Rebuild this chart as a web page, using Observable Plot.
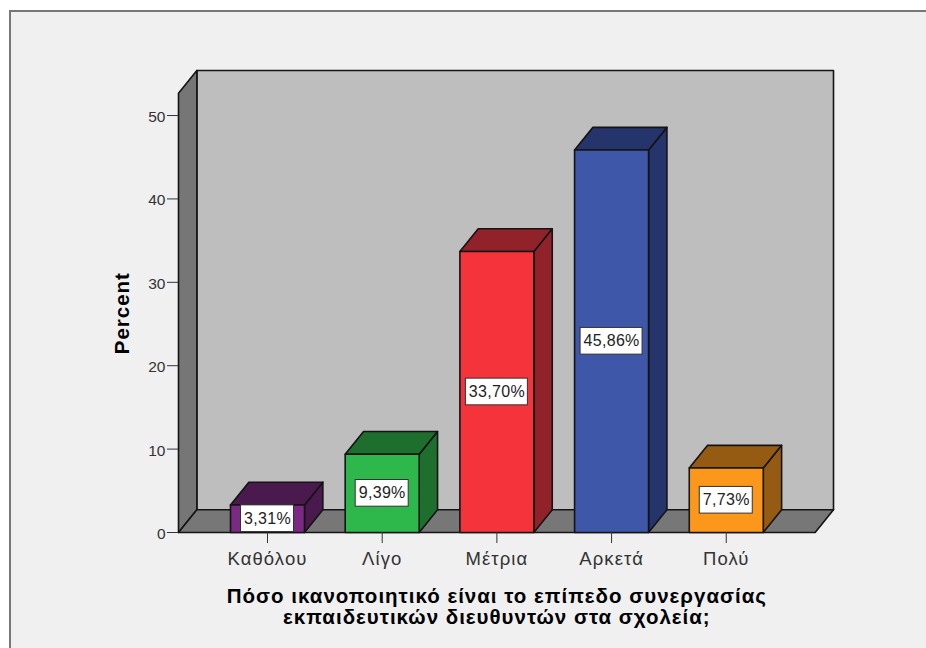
<!DOCTYPE html>
<html lang="el">
<head>
<meta charset="utf-8">
<script src="https://cdn.jsdelivr.net/npm/d3@7"></script>
<script src="https://cdn.jsdelivr.net/npm/@observablehq/plot@0.6"></script>
<style>
  html, body { margin: 0; padding: 0; background: #fff; overflow: hidden; }
  #panel { position: absolute; left: 9px; top: 10px; width: 940px; height: 660px;
           background: #f0f0f0; border: 2px solid #777; box-sizing: border-box; }
  #chart { position: absolute; left: 0; top: 0; }
  #chart svg { display: block; }
  g[aria-label="x-axis tick label"] { letter-spacing: 1.1px; }
</style>
</head>
<body>
<div id="panel"></div>
<div id="chart"></div>
<script>
// Satisfaction with teacher/principal cooperation, percent of respondents
const categories = ["Καθόλου", "Λίγο", "Μέτρια", "Αρκετά", "Πολύ"];
const percents = [3.31, 9.39, 33.70, 45.86, 7.73];
const percentLabels = ["3,31%", "9,39%", "33,70%", "45,86%", "7,73%"];
const frontColors = ["#7b2a84", "#2eb84b", "#f4333a", "#3f57a8", "#fb981c"];
const shadeColors = ["#4a1a4e", "#1e6e2d", "#92222a", "#25356c", "#965b12"];
const yTicks = [0, 10, 20, 30, 40, 50];
const xTitle = "Πόσο ικανοποιητικό είναι το επίπεδο συνεργασίας\nεκπαιδευτικών διευθυντών στα σχολεία;";

// Extents of the drawing box, in scale units (bar index and percent)
const xMin = -0.776, xMax = 4.935, yMax = 55.4;
// Oblique offset that gives the box and bars their depth
const depthX = 0.16, depthY = 2.72;
const barHalf = 0.3226;
// White value tags: half-width grows with the label length, in scale units
const tagHalfX = label => 0.0392 * label.length + 0.035;
const tagHalfY = 1.6;
const lineColor = "#141414";

const polygon = (points, fill) =>
  Plot.line(points, {
    x: "0", y: "1", fill, stroke: lineColor, strokeWidth: 1.6,
    curve: "linear-closed", strokeLinejoin: "round"
  });

// Render transform that widens the tracking of a text mark
const tracked = spacing => (index, scales, values, dimensions, context, next) => {
  const group = next(index, scales, values, dimensions, context);
  group.style.letterSpacing = spacing;
  return group;
};

const box = [
  polygon([[xMin + depthX, 0 + depthY], [xMax, depthY], [xMax, yMax], [xMin + depthX, yMax]], "#bebebe"),
  polygon([[xMin, 0], [xMin + depthX, depthY], [xMin + depthX, yMax], [xMin, yMax - depthY]], "#767676"),
  polygon([[xMin, 0], [xMax - depthX, 0], [xMax, depthY], [xMin + depthX, depthY]], "#777777")
];

const bars = percents.flatMap((v, i) => {
  const l = i - barHalf, r = i + barHalf;
  return [
    polygon([[r, 0], [r + depthX, depthY], [r + depthX, v + depthY], [r, v]], shadeColors[i]),
    polygon([[l, v], [r, v], [r + depthX, v + depthY], [l + depthX, v + depthY]], shadeColors[i]),
    polygon([[l, 0], [r, 0], [r, v], [l, v]], frontColors[i])
  ];
});

const rows = categories.map((category, i) => ({
  i, category, value: percents[i], label: percentLabels[i]
}));

const plot = Plot.plot({
  width: 926,
  height: 648,
  marginLeft: 178,
  marginRight: 93,
  marginTop: 70,
  marginBottom: 116,
  style: { background: "transparent", fontFamily: "'Liberation Sans', Arial, sans-serif" },
  x: { domain: [xMin, xMax] },
  y: { domain: [0, yMax] },
  marks: [
    ...box,
    ...bars,
    Plot.rect(rows, {
      x1: d => d.i - tagHalfX(d.label),
      x2: d => d.i + tagHalfX(d.label),
      y1: d => d.value / 2 - tagHalfY,
      y2: d => d.value / 2 + tagHalfY,
      fill: "white",
      stroke: "#333",
      strokeWidth: 1
    }),
    Plot.text(rows, {
      x: "i", y: d => d.value / 2, text: "label",
      fontSize: 16, fill: "#222", render: tracked("0.3px")
    }),
    Plot.axisY({ ticks: yTicks, label: null, tickSize: 11, text: null, color: "#333" }),
    Plot.axisY({
      ticks: yTicks, label: null, tickSize: 0, tickPadding: 13,
      fontSize: 15.5, color: "#333", tickFormat: d => d, dy: 1.5
    }),
    Plot.axisX({
      ticks: categories.map((_, i) => i), label: null, tickSize: 11, tickPadding: 8,
      fontSize: 18.5, color: "#333", tickFormat: i => categories[i]
    }),
    Plot.text(["Percent"], {
      frameAnchor: "left", textAnchor: "middle", y: () => 26.3, dx: -56, rotate: -90,
      fontSize: 20.5, fontWeight: "bold", fill: "#000", render: tracked("1px")
    }),
    Plot.text([xTitle], {
      x: () => 2, y: () => -8.9, lineHeight: 1.05,
      fontSize: 20.5, fontWeight: "bold", fill: "#000", render: tracked("1px")
    })
  ]
});

document.getElementById("chart").appendChild(plot);
</script>
</body>
</html>
